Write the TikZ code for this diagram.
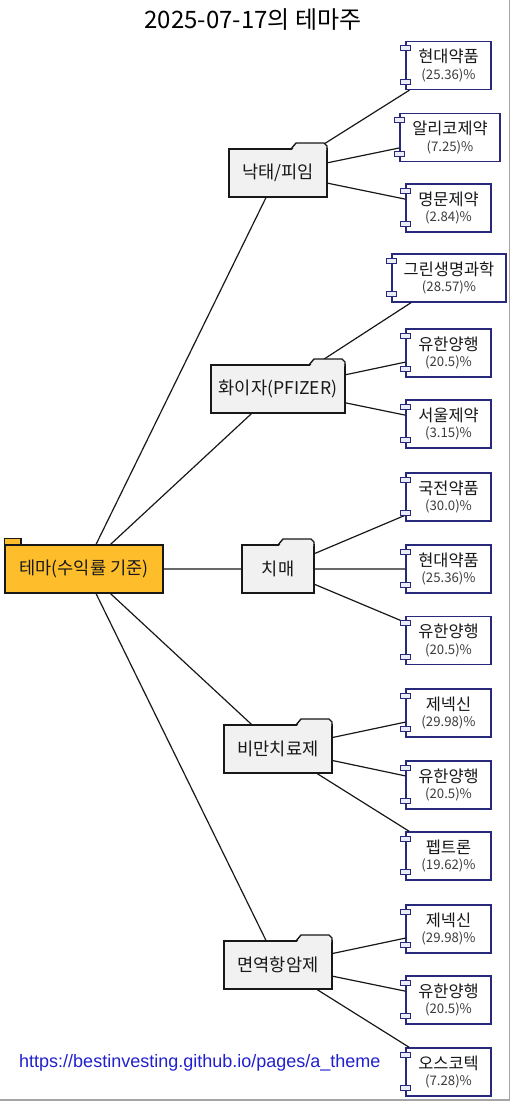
\documentclass[tikz,border=0pt]{standalone}
\usepackage{fontspec}
\setmainfont{Noto Sans CJK KR}
\newfontfamily\urlfont{Liberation Sans}
\definecolor{linegray}{RGB}{24,24,24}
\definecolor{rootorange}{RGB}{254,190,43}
\definecolor{foldergray}{RGB}{241,241,241}
\definecolor{stockblue}{RGB}{40,40,125}
\definecolor{portfill}{RGB}{236,236,246}
\definecolor{urlblue}{RGB}{32,32,205}
\definecolor{framegray}{RGB}{165,165,165}
\definecolor{pctgray}{RGB}{60,60,60}
\newcommand\pcttext[1]{{\fontsize{13.2}{16.5}\selectfont\color{pctgray}#1}}
\tikzset{
  title/.style={inner sep=0pt, font=\fontsize{24}{26}\selectfont},
  theme/.style={draw=linegray, fill=rootorange, line width=1.4pt, minimum width=158pt, minimum height=48pt, inner sep=0pt, text=linegray, font=\fontsize{17.6}{19}\selectfont},
  folder/.style={draw=linegray, fill=foldergray, line width=1.4pt, minimum height=48pt, inner sep=0pt, outer sep=0pt, text=linegray, font=\fontsize{17.6}{19}\selectfont},
  tab/.style={draw=linegray, line width=1.4pt, line join=round},
  stock/.style={draw=stockblue, fill=white, line width=1.3pt, minimum width=85pt, minimum height=48pt, inner sep=0pt, align=center, text=linegray, font=\fontsize{16.4}{16.8}\selectfont},
  port/.style={draw=stockblue, fill=portfill, line width=1.1pt},
  link/.style={draw=linegray, line width=1.2pt},
  urltext/.style={inner sep=0pt, text=urlblue, font=\urlfont\fontsize{18}{20}\selectfont}
}
\begin{document}
\begin{tikzpicture}[x=1pt,y=-1pt]
\useasboundingbox (0,0) rectangle (511,1103);
\node[title] (title) at (253,20) {2025-07-17의 테마주};
\node[theme] (theme) at (84,569) {테마(수익률 기준)};
\node[folder, minimum width=98pt] (abort) at (278,173) {낙태/피임};
\node[folder, minimum width=134pt] (pfizer) at (278,389) {화이자(PFIZER)};
\node[folder, minimum width=72pt] (dementia) at (278,569) {치매};
\node[folder, minimum width=108pt] (obesity) at (278,749) {비만치료제};
\node[folder, minimum width=108pt] (immuno) at (278,965) {면역항암제};
\node[stock] (s11) at (448.5,65.5) {현대약품\\\pcttext{(25.36)\%}};
\node[stock, minimum width=100pt] (s12) at (450,137.5) {알리코제약\\\pcttext{(7.25)\%}};
\node[stock] (s13) at (448.5,208) {명문제약\\\pcttext{(2.84)\%}};
\node[stock, minimum width=114pt] (s21) at (449,278) {그린생명과학\\\pcttext{(28.57)\%}};
\node[stock] (s22) at (448.5,353) {유한양행\\\pcttext{(20.5)\%}};
\node[stock] (s23) at (448.5,424) {서울제약\\\pcttext{(3.15)\%}};
\node[stock] (s31) at (448.5,497) {국전약품\\\pcttext{(30.0)\%}};
\node[stock] (s32) at (448.5,569) {현대약품\\\pcttext{(25.36)\%}};
\node[stock] (s33) at (448.5,640.5) {유한양행\\\pcttext{(20.5)\%}};
\node[stock] (s41) at (448.5,713) {제넥신\\\pcttext{(29.98)\%}};
\node[stock] (s42) at (448.5,785) {유한양행\\\pcttext{(20.5)\%}};
\node[stock] (s43) at (448.5,856) {펩트론\\\pcttext{(19.62)\%}};
\node[stock] (s51) at (448.5,929) {제넥신\\\pcttext{(29.98)\%}};
\node[stock] (s52) at (448.5,1000) {유한양행\\\pcttext{(20.5)\%}};
\node[stock] (s53) at (448.5,1072) {오스코텍\\\pcttext{(7.28)\%}};
\node[urltext, anchor=west] (url) at (19,1063) {https://bestinvesting.github.io/pages/a\_theme};
\draw[link] (theme) -- (abort) (theme) -- (pfizer) (theme) -- (dementia) (theme) -- (obesity) (theme) -- (immuno);
\draw[link] (abort) -- (s11) (abort) -- (s12) (abort) -- (s13);
\draw[link] (pfizer) -- (s21) (pfizer) -- (s22) (pfizer) -- (s23);
\draw[link] (dementia) -- (s31) (dementia) -- (s32) (dementia) -- (s33);
\draw[link] (obesity) -- (s41) (obesity) -- (s42) (obesity) -- (s43);
\draw[link] (immuno) -- (s51) (immuno) -- (s52) (immuno) -- (s53);
\filldraw[draw=linegray, fill=rootorange, line width=1.4pt] (theme.north west) rectangle ++(16.5pt,6pt);
\foreach \f in {abort,pfizer,dementia,obesity,immuno} {
  \fill[foldergray] ([xshift=-35pt,yshift=-1pt]\f.north east) -- ([xshift=-30pt,yshift=6pt]\f.north east) -- ([xshift=-3pt,yshift=6pt]\f.north east) -- ([xshift=-0.7pt,yshift=3pt]\f.north east) -- ([xshift=-0.7pt,yshift=-1pt]\f.north east) -- cycle;
  \draw[tab] ([xshift=-36pt]\f.north east) -- ([xshift=-31pt,yshift=6pt]\f.north east) -- ([xshift=-3pt,yshift=6pt]\f.north east) -- ([yshift=3pt]\f.north east) -- (\f.north east);
}
\foreach \s in {s11,s12,s13,s21,s22,s23,s31,s32,s33,s41,s42,s43,s51,s52,s53} {
  \filldraw[port] ([xshift=-5pt,yshift=-5pt]\s.north west) rectangle ++(10pt,-5pt);
  \filldraw[port] ([xshift=-5pt,yshift=6pt]\s.south west) rectangle ++(10pt,5pt);
}
\draw[draw=framegray, line width=1.3pt] (509.5,0) -- (509.5,1100) -- (0,1100);
\end{tikzpicture}
\end{document}
